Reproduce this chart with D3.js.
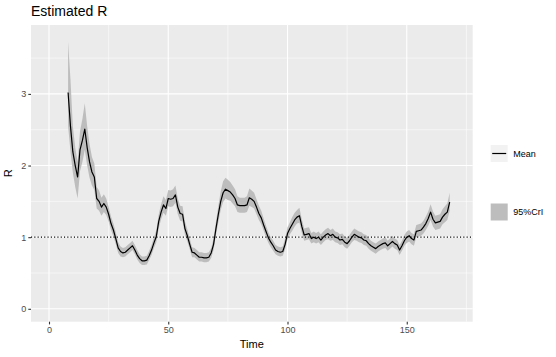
<!DOCTYPE html>
<head>
<meta charset="utf-8">
<style>
body {
  margin: 0;
  background: #fff;
  font-family: "Liberation Sans", Arial, Helvetica, sans-serif;
}
.grid-major { stroke: #fff; stroke-width: 1.1px; }
.grid-minor { stroke: #fff; stroke-width: 0.55px; }
.tick-label { font-size: 9px; fill: #4d4d4d; }
.axis-title { font-size: 11px; fill: #000; }
.legend-text { font-size: 9px; fill: #000; }
</style>
</head>
<body>
<script src="https://d3js.org/d3.v7.min.js"></script>
<script>
(function() {
	//
	// Data
	//
	var time = [8, 9, 10, 11, 12, 13, 14, 15, 16, 17, 18, 19, 20, 21, 22, 23, 24,
		25, 26, 27, 28, 29, 30, 31, 32, 33, 34, 35, 36, 37, 38, 39, 40, 41, 42, 43, 44,
		45, 46, 47, 48, 49, 50, 51, 52, 53, 54, 55, 56, 57, 58, 59, 60, 61, 62, 63, 64,
		65, 66, 67, 68, 69, 70, 71, 72, 73, 74, 75, 76, 77, 78, 79, 80, 81, 82, 83, 84,
		85, 86, 87, 88, 89, 90, 91, 92, 93, 94, 95, 96, 97, 98, 99, 100, 101, 102, 103, 104,
		105, 106, 107, 108, 109, 110, 111, 112, 113, 114, 115, 116, 117, 118, 119, 120, 121, 122, 123, 124,
		125, 126, 127, 128, 129, 130, 131, 132, 133, 134, 135, 136, 137, 138, 139, 140, 141, 142, 143, 144,
		145, 146, 147, 148, 149, 150, 151, 152, 153, 154, 155, 156, 157, 158, 159, 160, 161, 162, 163, 164,
		165, 166, 167, 168];

	var mean = [3.02, 2.55, 2.19, 2.00, 1.84, 2.22, 2.35, 2.51, 2.25, 2.05, 1.91, 1.84, 1.54, 1.50, 1.42, 1.47, 1.42,
		1.32, 1.19, 1.10, 0.98, 0.85, 0.80, 0.78, 0.79, 0.82, 0.85, 0.88, 0.82, 0.75, 0.70, 0.67, 0.67, 0.68, 0.74, 0.82, 0.92,
		1.01, 1.22, 1.35, 1.45, 1.40, 1.54, 1.53, 1.54, 1.59, 1.42, 1.33, 1.32, 1.12, 1.02, 0.90, 0.79, 0.78, 0.75, 0.72, 0.72,
		0.71, 0.71, 0.72, 0.78, 0.90, 1.12, 1.32, 1.50, 1.62, 1.67, 1.65, 1.63, 1.59, 1.54, 1.45, 1.44, 1.44, 1.44, 1.45, 1.55,
		1.53, 1.50, 1.42, 1.33, 1.27, 1.17, 1.08, 0.99, 0.93, 0.88, 0.82, 0.80, 0.79, 0.80, 0.90, 1.05, 1.12, 1.18, 1.24, 1.28,
		1.30, 1.15, 1.03, 1.04, 1.05, 0.98, 1.00, 0.98, 1.00, 0.96, 1.00, 1.03, 1.05, 1.02, 1.04, 1.00, 0.99, 0.96, 0.97, 0.93,
		0.91, 0.95, 1.00, 1.04, 1.02, 1.00, 0.99, 0.96, 0.95, 0.91, 0.88, 0.86, 0.84, 0.87, 0.89, 0.91, 0.92, 0.88, 0.91, 0.94,
		0.91, 0.89, 0.82, 0.88, 0.95, 1.00, 1.02, 0.98, 0.96, 1.08, 1.09, 1.10, 1.14, 1.19, 1.26, 1.35, 1.25, 1.20, 1.21, 1.22,
		1.28, 1.32, 1.35, 1.49];

	var lower = [2.55, 2.20, 1.90, 1.70, 1.54, 1.92, 2.05, 2.22, 2.00, 1.83, 1.72, 1.66, 1.40, 1.37, 1.30, 1.35, 1.31,
		1.22, 1.10, 1.01, 0.90, 0.78, 0.73, 0.72, 0.73, 0.76, 0.79, 0.82, 0.76, 0.69, 0.64, 0.61, 0.61, 0.62, 0.68, 0.75, 0.85,
		0.93, 1.12, 1.25, 1.34, 1.30, 1.43, 1.42, 1.43, 1.48, 1.32, 1.23, 1.22, 1.03, 0.94, 0.83, 0.72, 0.72, 0.69, 0.66, 0.66,
		0.65, 0.65, 0.66, 0.71, 0.82, 1.03, 1.21, 1.38, 1.49, 1.54, 1.52, 1.51, 1.47, 1.43, 1.35, 1.34, 1.34, 1.34, 1.35, 1.44,
		1.42, 1.40, 1.32, 1.24, 1.18, 1.09, 1.00, 0.92, 0.86, 0.81, 0.76, 0.74, 0.73, 0.74, 0.83, 0.97, 1.04, 1.09, 1.15, 1.19,
		1.20, 1.06, 0.95, 0.96, 0.97, 0.91, 0.93, 0.91, 0.93, 0.89, 0.93, 0.96, 0.97, 0.95, 0.96, 0.93, 0.92, 0.89, 0.90, 0.86,
		0.84, 0.88, 0.93, 0.96, 0.95, 0.93, 0.92, 0.89, 0.88, 0.84, 0.81, 0.79, 0.77, 0.80, 0.82, 0.84, 0.85, 0.81, 0.84, 0.87,
		0.84, 0.82, 0.75, 0.81, 0.88, 0.92, 0.94, 0.90, 0.88, 1.00, 1.01, 1.02, 1.05, 1.10, 1.16, 1.24, 1.15, 1.10, 1.11, 1.12,
		1.18, 1.21, 1.24, 1.37];

	var upper = [3.73, 3.20, 2.55, 2.25, 2.05, 2.48, 2.65, 2.87, 2.55, 2.30, 2.12, 2.03, 1.70, 1.65, 1.55, 1.60, 1.54,
		1.42, 1.29, 1.19, 1.07, 0.93, 0.87, 0.85, 0.86, 0.89, 0.92, 0.95, 0.89, 0.82, 0.76, 0.73, 0.73, 0.74, 0.81, 0.89, 1.00,
		1.10, 1.32, 1.46, 1.57, 1.52, 1.66, 1.65, 1.67, 1.72, 1.54, 1.44, 1.43, 1.22, 1.11, 0.98, 0.86, 0.85, 0.82, 0.79, 0.79,
		0.78, 0.78, 0.79, 0.85, 0.98, 1.22, 1.44, 1.64, 1.78, 1.83, 1.80, 1.77, 1.72, 1.67, 1.57, 1.55, 1.55, 1.55, 1.57, 1.68,
		1.65, 1.62, 1.53, 1.44, 1.37, 1.26, 1.16, 1.07, 1.00, 0.95, 0.89, 0.87, 0.86, 0.87, 0.98, 1.14, 1.21, 1.28, 1.34, 1.38,
		1.41, 1.25, 1.12, 1.13, 1.14, 1.06, 1.08, 1.06, 1.08, 1.04, 1.08, 1.11, 1.13, 1.10, 1.12, 1.08, 1.07, 1.04, 1.05, 1.01,
		0.99, 1.03, 1.08, 1.12, 1.10, 1.08, 1.07, 1.04, 1.03, 0.99, 0.95, 0.93, 0.91, 0.94, 0.96, 0.98, 1.00, 0.95, 0.98, 1.02,
		0.98, 0.96, 0.89, 0.95, 1.03, 1.08, 1.10, 1.06, 1.04, 1.17, 1.18, 1.19, 1.23, 1.29, 1.36, 1.46, 1.36, 1.30, 1.31, 1.32,
		1.39, 1.43, 1.47, 1.62];

	var xTicks = [0, 50, 100, 150],
		xMinor = [25, 75, 125, 175],
		yTicks = [0, 1, 2, 3],
		yMinor = [0.5, 1.5, 2.5, 3.5],
		legendLabels = ["Mean", "95%CrI"];

	var
		W = 556,
		H = 357,
		panel = {left: 31, top: 25, right: 472.7, bottom: 321.7};

	var sx = d3.scaleLinear()
		.domain([-7.55, 177.65])
		.range([panel.left, panel.right]);

	var sy = d3.scaleLinear()
		.domain([-0.18, 3.962])
		.range([panel.bottom, panel.top]);

	var svg = d3.select("body")
		.append("svg")
		.attr("width", W)
		.attr("height", H);

	// panel background
	svg.append("rect")
		.attr("x", panel.left).attr("y", panel.top)
		.attr("width", panel.right - panel.left)
		.attr("height", panel.bottom - panel.top)
		.attr("fill", "#ebebeb");

	var grid = svg.append("g");
	grid.selectAll(".gx-minor").data(xMinor).enter().append("line")
		.attr("class", "grid-minor")
		.attr("x1", sx).attr("x2", sx)
		.attr("y1", panel.top).attr("y2", panel.bottom);
	grid.selectAll(".gy-minor").data(yMinor).enter().append("line")
		.attr("class", "grid-minor")
		.attr("y1", sy).attr("y2", sy)
		.attr("x1", panel.left).attr("x2", panel.right);
	grid.selectAll(".gx-major").data(xTicks).enter().append("line")
		.attr("class", "grid-major")
		.attr("x1", sx).attr("x2", sx)
		.attr("y1", panel.top).attr("y2", panel.bottom);
	grid.selectAll(".gy-major").data(yTicks).enter().append("line")
		.attr("class", "grid-major")
		.attr("y1", sy).attr("y2", sy)
		.attr("x1", panel.left).attr("x2", panel.right);

	var idx = d3.range(time.length);

	var area = d3.area()
		.x(function(i) { return sx(time[i]); })
		.y0(function(i) { return sy(lower[i]); })
		.y1(function(i) { return sy(upper[i]); });

	var line = d3.line()
		.x(function(i) { return sx(time[i]); })
		.y(function(i) { return sy(mean[i]); });

	svg.append("path")
		.attr("d", area(idx))
		.attr("fill", "#bdbdbd");

	// reference line at R = 1
	svg.append("line")
		.attr("x1", panel.left).attr("x2", panel.right)
		.attr("y1", sy(1)).attr("y2", sy(1))
		.attr("stroke", "#000")
		.attr("stroke-width", 1.1)
		.attr("stroke-dasharray", "1.1,2.2");

	svg.append("path")
		.attr("d", line(idx))
		.attr("fill", "none")
		.attr("stroke", "#000")
		.attr("stroke-width", 1.2)
		.attr("stroke-linejoin", "round");

	// axes
	var xAxis = d3.axisBottom(sx).tickValues(xTicks).tickFormat(d3.format("d")).tickSize(2.7).tickPadding(2);
	var gx = svg.append("g")
		.attr("transform", "translate(0," + panel.bottom + ")")
		.call(xAxis);
	var yAxis = d3.axisLeft(sy).tickValues(yTicks).tickFormat(d3.format("d")).tickSize(2.7).tickPadding(2);
	var gy = svg.append("g")
		.attr("transform", "translate(" + panel.left + ",0)")
		.call(yAxis);
	[gx, gy].forEach(function(g) {
		g.select(".domain").remove();
		g.selectAll(".tick line").attr("stroke", "#333").attr("stroke-width", 1.1);
		g.selectAll(".tick text").attr("class", "tick-label").attr("fill", null)
			.style("font-family", null).style("font-size", null);
		g.attr("font-family", null).attr("font-size", null);
	});

	svg.append("text")
		.attr("class", "axis-title")
		.attr("x", (panel.left + panel.right) / 2)
		.attr("y", 348)
		.attr("text-anchor", "middle")
		.text("Time");

	svg.append("text")
		.attr("class", "axis-title")
		.attr("transform", "translate(12," + ((panel.top + panel.bottom) / 2) + ") rotate(-90)")
		.attr("text-anchor", "middle")
		.text("R");

	svg.append("text")
		.attr("x", 31)
		.attr("y", 16)
		.attr("font-size", "14px")
		.attr("fill", "#000")
		.text("Estimated R");

	// legends
	var keyX = 490.7, keySize = 17;
	var lg1 = svg.append("g").attr("transform", "translate(" + keyX + ",145)");
	lg1.append("rect").attr("width", keySize).attr("height", keySize).attr("fill", "#f2f2f2");
	lg1.append("line")
		.attr("x1", 1.5).attr("x2", keySize - 1.5)
		.attr("y1", keySize / 2).attr("y2", keySize / 2)
		.attr("stroke", "#000").attr("stroke-width", 1.2);
	lg1.append("text").attr("class", "legend-text")
		.attr("x", keySize + 5.5).attr("y", keySize / 2 + 3.2)
		.text(legendLabels[0]);

	var lg2 = svg.append("g").attr("transform", "translate(" + keyX + ",203.5)");
	lg2.append("rect").attr("width", keySize).attr("height", keySize).attr("fill", "#bdbdbd");
	lg2.append("text").attr("class", "legend-text")
		.attr("x", keySize + 5.5).attr("y", keySize / 2 + 3.2)
		.text(legendLabels[1]);
})();
</script>
</body>
